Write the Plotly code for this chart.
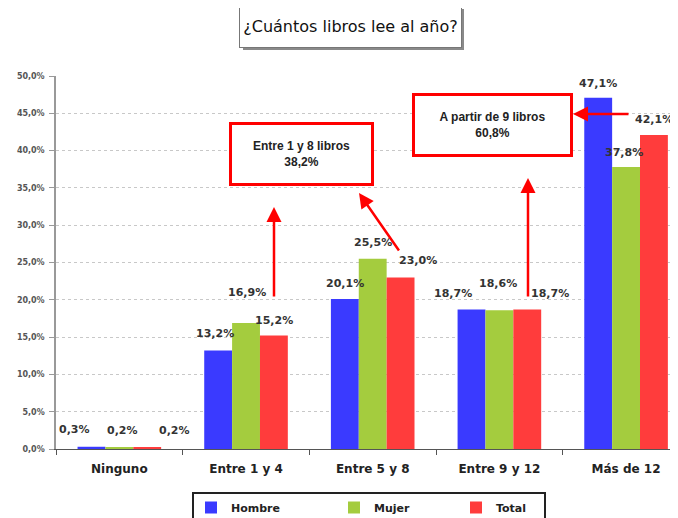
import plotly.graph_objects as go

categories = ["Ninguno", "Entre 1 y 4", "Entre 5 y 8", "Entre 9 y 12", "Más de 12"]
hombre = [0.3, 13.2, 20.1, 18.7, 47.1]
mujer = [0.2, 16.9, 25.5, 18.6, 37.8]
total = [0.2, 15.2, 23.0, 18.7, 42.1]
series_names = ["Hombre", "Mujer", "Total"]
y_ticks = [0, 5, 10, 15, 20, 25, 30, 35, 40, 45, 50]
y_ticktext = ["0,0%", "5,0%", "10,0%", "15,0%", "20,0%", "25,0%", "30,0%",
              "35,0%", "40,0%", "45,0%", "50,0%"]
title_text = "¿Cuántos libros lee al año?"
box1_text = "Entre 1 y 8 libros<br>38,2%"
box2_text = "A partir de 9 libros<br>60,8%"

OFF = 8  # page body margin
W, H = 670, 510
L, R, T, B = 48, 0, 68, 69
plot_w = W - L - R
plot_h = H - T - B

def px_x(px):
    return (px - OFF - L) / plot_w

def px_y(py):
    return (H - B - (py - OFF)) / plot_h

# label placement tweaks (pixels) per category x series, relative to bar top centre
label_dx = [[-17, 3, 27], [-3, 1, 0], [0, 0, 17], [-18, -1, 23], [0, -2, 0]]
label_dy = [[17, 17, 17], [17, 30, 15], [16, 16, 17], [16, 27, 16], [14, 15, 15]]
bar_px = 28  # pixel width of one bar

colors = ["#3a3aff", "#a4cc3e", "#ff3c3c"]
legend_ids = ["legend", "legend2", "legend3"]
legend_marker_px = [212, 355, 477]
series = [hombre, mujer, total]
fig = go.Figure()
for name, vals, col, lg in zip(series_names, series, colors, legend_ids):
    fig.add_trace(go.Bar(
        x=categories, y=vals, name=name, legend=lg,
        marker=dict(color=col, line=dict(width=0)),
    ))

lab_font = dict(family="DejaVu Sans", size=11, color="#333333", weight="bold")
for s, vals in enumerate(series):
    for c, (cat, v) in enumerate(zip(categories, vals)):
        fig.add_annotation(
            x=cat, y=v, xref="x", yref="y",
            text=f"{v:.1f}%".replace(".", ","), showarrow=False,
            font=lab_font, xanchor="center", yanchor="middle",
            xshift=(s - 1) * bar_px + label_dx[c][s], yshift=label_dy[c][s],
        )

leg_font = dict(family="DejaVu Sans", size=11, color="#222222", weight="bold")
legends = {}
for lg, mx in zip(legend_ids, legend_marker_px):
    legends[lg] = dict(
        orientation="h", x=px_x(mx - 21), y=px_y(493), xanchor="left", yanchor="top",
        borderwidth=0, bgcolor="rgba(0,0,0,0)", font=leg_font, itemwidth=30,
    )

fig.update_layout(
    width=W, height=H,
    margin=dict(l=L, r=R, t=T, b=B, pad=0, autoexpand=False),
    plot_bgcolor="white", paper_bgcolor="white",
    barmode="group", bargap=0.34, bargroupgap=0,
    showlegend=True,
    **legends,
    xaxis=dict(
        type="category", range=[-0.5, 4.41], automargin=False,
        showline=True, linecolor="#555555", linewidth=1,
        ticks="outside", ticklen=5, tickcolor="#555555", tickson="boundaries",
        tickfont=dict(family="DejaVu Sans", size=12, color="#222222", weight="bold"),
        ticklabelstandoff=9,
        showgrid=False,
    ),
    yaxis=dict(
        range=[0, 50], tickvals=y_ticks, ticktext=y_ticktext, automargin=False,
        showline=True, linecolor="#999999", linewidth=1.5,
        ticks="outside", ticklen=5, tickcolor="#999999",
        tickfont=dict(family="DejaVu Sans", size=8, color="#555555", weight="bold"),
        ticklabelstandoff=3,
        showgrid=True, gridcolor="#c8c8c8", griddash="dot", gridwidth=1,
        zeroline=False,
    ),
)

# legend frame
fig.add_shape(type="rect", xref="paper", yref="paper",
              x0=px_x(193), x1=px_x(545), y0=px_y(530), y1=px_y(493),
              fillcolor="rgba(0,0,0,0)", line=dict(color="#222222", width=2),
              layer="below")

# title box with shadow
fig.add_shape(type="rect", xref="paper", yref="paper",
              x0=px_x(243), x1=px_x(464), y0=px_y(50), y1=px_y(9),
              fillcolor="#8a8a8a", line=dict(width=0), layer="above")
fig.add_annotation(xref="paper", yref="paper", x=px_x(350.5), y=px_y(26.5),
                   text=title_text, showarrow=False,
                   font=dict(family="DejaVu Sans", size=16, color="#111111"),
                   bgcolor="white", bordercolor="#777777", borderwidth=1,
                   width=219, height=39, xanchor="center", yanchor="middle")

# callout boxes
box_font = dict(family="Liberation Sans", size=12, color="#222222", weight="bold")
fig.add_annotation(xref="paper", yref="paper", x=px_x(301.5), y=px_y(154),
                   text=box1_text, showarrow=False, font=box_font,
                   bgcolor="white", bordercolor="#ff0000", borderwidth=3,
                   width=137, height=56, xanchor="center", yanchor="middle")
fig.add_annotation(xref="paper", yref="paper", x=px_x(492.5), y=px_y(125),
                   text=box2_text, showarrow=False, font=box_font,
                   bgcolor="white", bordercolor="#ff0000", borderwidth=3,
                   width=153, height=56, xanchor="center", yanchor="middle")

# arrows (head position, tail offset in px)
arrows = [((274, 207), (0, 91)), ((359, 193), (41, 59)),
          ((528, 178), (0, 120)), ((573, 114), (57, 0))]
for (hx, hy), (ax, ay) in arrows:
    fig.add_annotation(xref="paper", yref="paper", x=px_x(hx), y=px_y(hy),
                       ax=ax, ay=ay, axref="pixel", ayref="pixel",
                       text="", showarrow=True, arrowhead=2, arrowsize=1.2,
                       arrowwidth=2.5, arrowcolor="#ff0000")

fig.write_html("out.html")
